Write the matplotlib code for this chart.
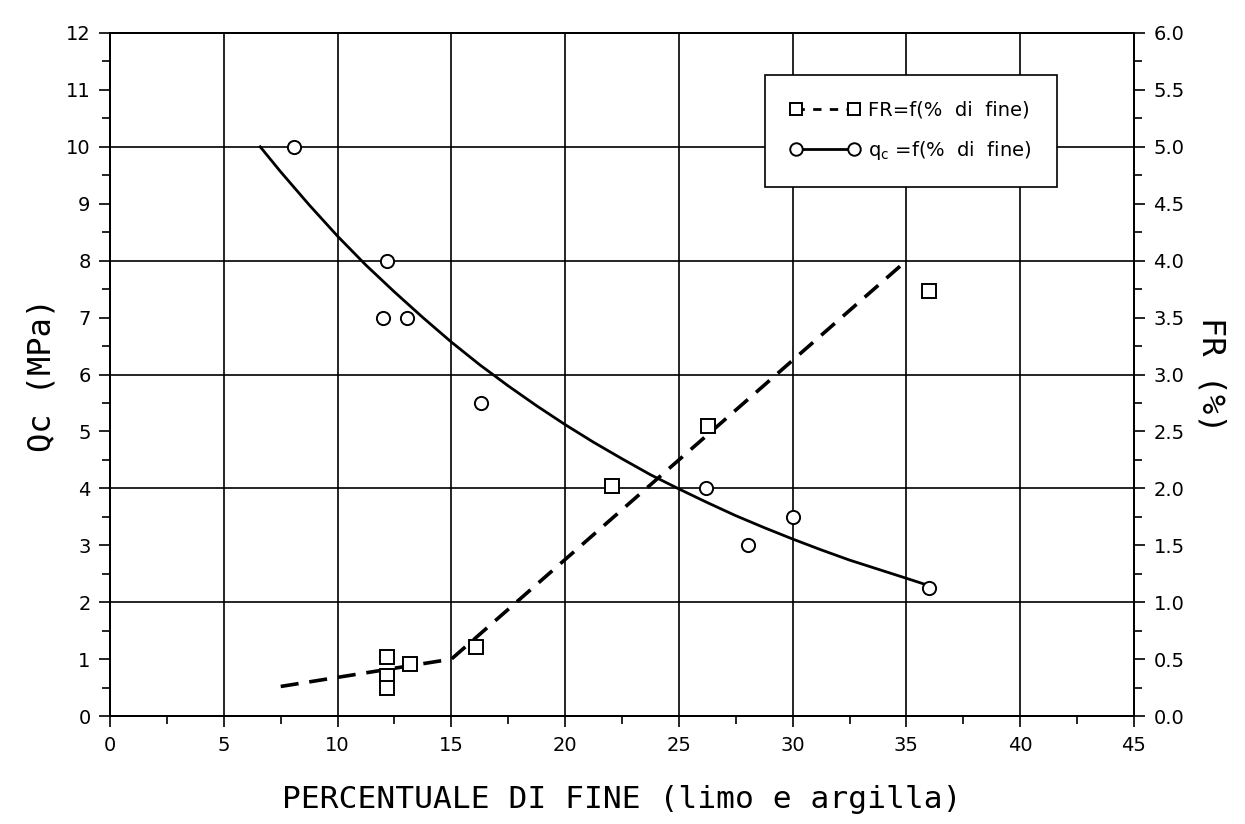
import matplotlib
matplotlib.use("Agg")
import matplotlib.pyplot as plt
from matplotlib.lines import Line2D
from matplotlib.ticker import MultipleLocator, FormatStrFormatter

# measured points: cone resistance qc (MPa) vs fines content (%)
qc_fines = [8.1, 12.15, 12.0, 13.05, 16.3, 26.2, 28.05, 30.0, 36.0]
qc_values = [10.0, 8.0, 7.0, 7.0, 5.5, 4.0, 3.0, 3.5, 2.25]

# measured points: friction ratio FR (%) vs fines content (%)
fr_fines = [12.15, 12.15, 12.15, 13.2, 16.1, 22.05, 26.3, 36.0]
fr_values = [0.52, 0.35, 0.25, 0.46, 0.61, 2.02, 2.55, 3.73]

# trend lines
qc_trend_x = [6.6, 7.5, 8.75, 10.0, 11.25, 12.5, 13.75, 15.0, 16.25, 17.5,
              18.75, 20.0, 21.25, 22.5, 23.75, 25.0, 26.25, 27.5, 28.75,
              30.0, 31.25, 32.5, 33.75, 35.0, 36.0]
qc_trend_y = [10.0, 9.56, 8.98, 8.43, 7.92, 7.45, 7.0, 6.57, 6.17, 5.8,
              5.45, 5.12, 4.81, 4.52, 4.24, 3.99, 3.75, 3.52, 3.31,
              3.11, 2.92, 2.74, 2.58, 2.42, 2.29]
fr_trend_x = [7.5, 10.0, 12.5, 15.0, 35.0]
fr_trend_y = [0.26, 0.34, 0.42, 0.5, 4.0]

x_ticks = list(range(0, 46, 5))

plt.rcParams["font.family"] = ["DejaVu Sans"]

fig = plt.figure(figsize=(12.45, 8.24), dpi=100)
ax = fig.add_axes([0.0884, 0.131, 0.8224, 0.829])
ax2 = ax.twinx()

ax.set_xlim(0, 45)
ax.set_ylim(0, 12)
ax2.set_ylim(0, 6)

# grid drawn by hand so both axes share one set of lines
for gx in range(5, 45, 5):
    ax.axvline(gx, color="black", lw=1.2, zorder=1)
for gy in range(2, 12, 2):
    ax.axhline(gy, color="black", lw=1.2, zorder=1)

ax.plot(qc_trend_x, qc_trend_y, color="black", lw=2.0, zorder=3)
ax.plot(qc_fines, qc_values, linestyle="none", marker="o", ms=9.5,
        mfc="white", mec="black", mew=1.4, zorder=4)

ax2.plot(fr_trend_x, fr_trend_y, color="black", lw=2.6,
         dashes=(5.0, 3.0), zorder=3)
ax2.plot(fr_fines, fr_values, linestyle="none", marker="s", ms=9.5,
         mfc="white", mec="black", mew=1.4, zorder=4)

# ticks
ax.xaxis.set_major_locator(MultipleLocator(5))
ax.xaxis.set_minor_locator(MultipleLocator(2.5))
ax.yaxis.set_major_locator(MultipleLocator(1))
ax.yaxis.set_minor_locator(MultipleLocator(0.5))
ax2.yaxis.set_major_locator(MultipleLocator(0.5))
ax2.yaxis.set_minor_locator(MultipleLocator(0.25))
ax2.yaxis.set_major_formatter(FormatStrFormatter("%.1f"))
ax.set_xticks(x_ticks)

for a in (ax, ax2):
    a.tick_params(which="major", direction="out", length=8, width=1.2,
                  labelsize=14, pad=6)
    a.tick_params(which="minor", direction="out", length=6, width=1.2)
    for s in a.spines.values():
        s.set_linewidth(1.4)

label_font = ["DejaVu Sans Mono", "DejaVu Sans"]
ax.set_xlabel("PERCENTUALE DI FINE (limo e argilla)", fontsize=22.5,
              family=label_font, labelpad=22)
ax.set_ylabel("Qc (MPa)", fontsize=23, family=label_font, labelpad=6)
ax2.set_ylabel("FR (%)", fontsize=23, family=label_font, rotation=-90,
               labelpad=30)

# legend
h_fr = Line2D([], [], color="black", lw=2.0, dashes=(3.0, 3.0), marker="s",
              ms=9, mfc="white", mec="black", mew=1.4)
h_qc = Line2D([], [], color="black", lw=2.0, marker="o",
              ms=9, mfc="white", mec="black", mew=1.4)
leg = ax.legend([h_fr, h_qc],
                ["FR=f(%  di  fine)", r"q$_\mathrm{c}$ =f(%  di  fine)"],
                loc="upper left", bbox_to_anchor=(0.630, 0.952),
                numpoints=2, fontsize=14, handlelength=3.6,
                handletextpad=0.4, borderpad=1.3, labelspacing=1.0,
                fancybox=False, framealpha=1, edgecolor="black")
leg.get_frame().set_linewidth(1.2)
leg.set_zorder(5)

fig.savefig("out.png", dpi=100)
